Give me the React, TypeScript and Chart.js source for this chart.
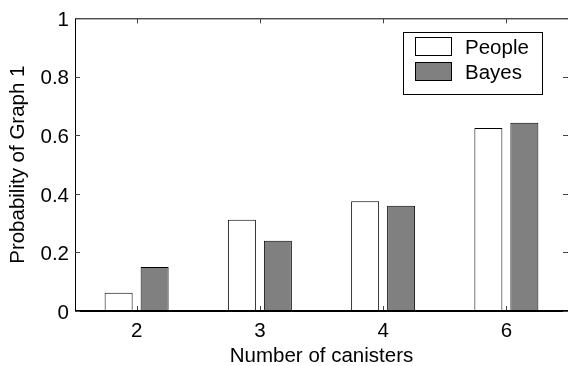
import React, { useEffect, useRef } from "react";
import { Chart, registerables } from "chart.js";

Chart.register(...registerables);

const categories = ["2", "3", "4", "6"];
const peopleValues = [0.062, 0.312, 0.375, 0.625];
const bayesValues = [0.15, 0.24, 0.36, 0.643];
const seriesLabels = ["People", "Bayes"];
const yTitle = "Probability of Graph 1";
const xTitle = "Number of canisters";

const FONT = "'Liberation Sans', Arial, Helvetica, sans-serif";
const FS = 20.5;

const framePlugin = {
  id: "matlabFrame",
  afterDatasetsDraw(chart: any) {
    const { ctx, chartArea, scales } = chart;
    const { left, right, top, bottom } = chartArea;
    ctx.save();
    ctx.strokeStyle = "#000";
    ctx.lineWidth = 1;
    ctx.beginPath();
    ctx.moveTo(left + 0.5, bottom);
    ctx.lineTo(left + 0.5, top + 0.5);
    ctx.lineTo(right + 0.5, top + 0.5);
    ctx.lineTo(right + 0.5, bottom);
    ctx.stroke();
    // thick baseline
    ctx.lineWidth = 2;
    ctx.beginPath();
    ctx.moveTo(left, bottom);
    ctx.lineTo(right + 1, bottom);
    ctx.stroke();
    // y ticks
    ctx.lineWidth = 1;
    ctx.strokeStyle = "#444";
    const ys = scales.y;
    ys.ticks.forEach((t: any) => {
      const py = Math.round(ys.getPixelForValue(t.value)) + 0.5;
      ctx.beginPath();
      ctx.moveTo(left, py);
      ctx.lineTo(left + 5, py);
      ctx.moveTo(right - 5, py);
      ctx.lineTo(right, py);
      ctx.stroke();
    });
    const xs = scales.x;
    categories.forEach((_, i) => {
      const px = Math.round(xs.getPixelForValue(i)) + 0.5;
      ctx.beginPath();
      ctx.moveTo(px, bottom - 1);
      ctx.lineTo(px, bottom - 5);
      ctx.moveTo(px, top);
      ctx.lineTo(px, top + 5);
      ctx.stroke();
    });
    // legend
    ctx.strokeStyle = "#000";
    ctx.fillStyle = "#fff";
    ctx.fillRect(403.5, 32.5, 139, 62);
    ctx.strokeRect(403.5, 32.5, 139, 62);
    const ds = chart.data.datasets;
    const rows = [37.5, 62.5];
    ds.forEach((d: any, i: number) => {
      ctx.fillStyle = d.backgroundColor;
      ctx.fillRect(415.5, rows[i], 36, 18);
      ctx.strokeStyle = "#000";
      ctx.strokeRect(415.5, rows[i], 36, 18);
      ctx.fillStyle = "#000";
      ctx.font = `${FS}px ${FONT}`;
      ctx.textBaseline = "alphabetic";
      ctx.textAlign = "left";
      ctx.fillText(d.label, 465, rows[i] + 16.5);
    });
    ctx.restore();
  },
};

export default function App() {
  const ref = useRef<HTMLCanvasElement>(null);
  useEffect(() => {
    document.body.style.margin = "0";
    const chart = new Chart(ref.current!, {
      type: "bar",
      data: {
        labels: categories,
        datasets: [
          {
            label: seriesLabels[0],
            data: peopleValues,
            backgroundColor: "#ffffff",
            borderColor: "#000000",
            borderWidth: 1,
          },
          {
            label: seriesLabels[1],
            data: bayesValues,
            backgroundColor: "#808080",
            borderColor: "#000000",
            borderWidth: 1,
          },
        ],
      },
      options: {
        animation: false,
        responsive: false,
        devicePixelRatio: 1,
        categoryPercentage: 0.584,
        barPercentage: 0.778,
        layout: { padding: { top: 15, right: 0, left: 0, bottom: 0 } },
        plugins: { legend: { display: false }, tooltip: { enabled: false } },
        scales: {
          x: {
            grid: { display: false, drawTicks: false },
            border: { display: false },
            ticks: { color: "#000", font: { size: FS, family: FONT }, padding: 8 },
            title: {
              display: true,
              text: xTitle,
              color: "#000",
              font: { size: FS, family: FONT },
              padding: { top: 0, bottom: -2.5 },
            },
            afterFit: (s: any) => {
              s.height = 55;
            },
          },
          y: {
            min: 0,
            max: 1,
            grid: { display: false, drawTicks: false },
            border: { display: false },
            ticks: {
              stepSize: 0.2,
              color: "#000",
              font: { size: FS, family: FONT },
              padding: 6,
              labelOffset: 2,
              callback: (v: any) => String(Number(Number(v).toFixed(1))),
            },
            title: {
              display: true,
              text: yTitle,
              color: "#000",
              font: { size: FS, family: FONT },
              padding: { top: 6, bottom: 0 },
            },
            afterFit: (s: any) => {
              s.width = 75;
            },
          },
        },
      },
      plugins: [framePlugin],
    } as any);
    return () => chart.destroy();
  }, []);
  return (
    <div style={{ position: "fixed", left: 0, top: 0, width: 568, height: 366, background: "#fff" }}>
      <canvas ref={ref} width={568} height={366} />
    </div>
  );
}
